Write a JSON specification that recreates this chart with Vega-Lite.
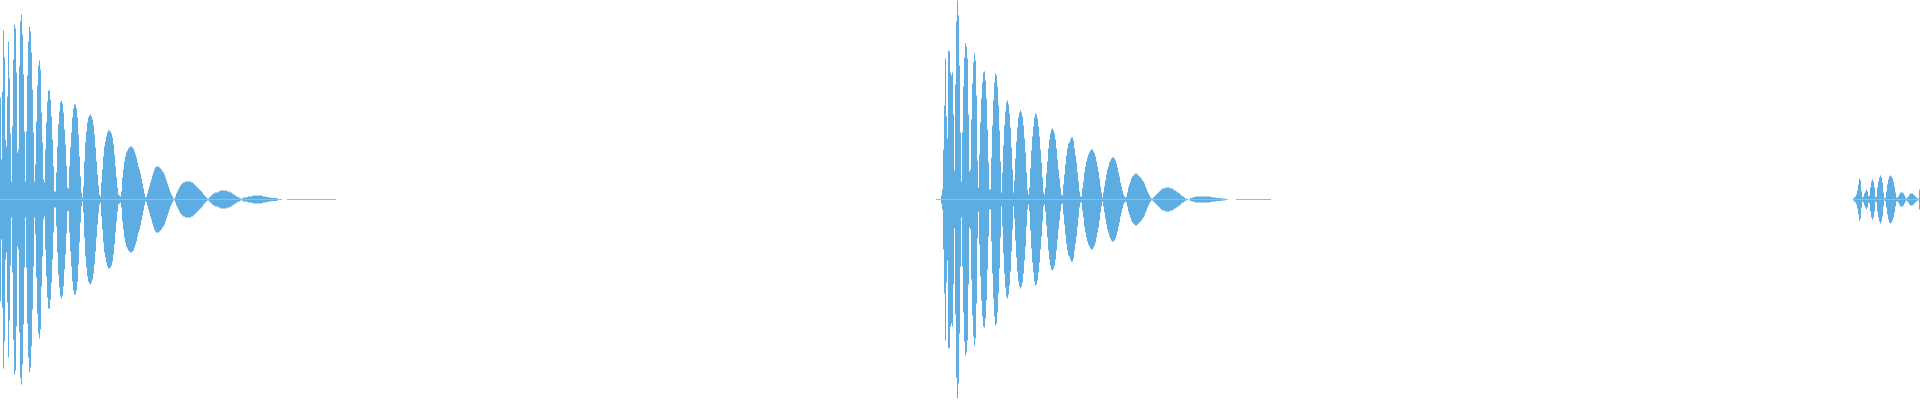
{
"$schema": "https://vega.github.io/schema/vega-lite/v6.json",
"width": 1920, "height": 400, "padding": 0,
"autosize": {"type": "fit", "contains": "padding"},
"background": "white",
"config": {"view": {"stroke": null}},
"data": {"values": [
{"x":0,"a":102},{"x":1,"a":40},{"x":2,"a":108},{"x":3,"a":169},{"x":4,"a":142},{"x":5,"a":60},{"x":6,"a":53},{"x":7,"a":103},{"x":8,"a":158},{"x":9,"a":121},
{"x":10,"a":66},{"x":11,"a":18},{"x":12,"a":73},{"x":13,"a":140},{"x":14,"a":175},{"x":15,"a":171},{"x":16,"a":127},{"x":17,"a":47},{"x":18,"a":50},{"x":19,"a":133},
{"x":20,"a":178},{"x":21,"a":185},{"x":22,"a":165},{"x":23,"a":125},{"x":24,"a":68},{"x":25,"a":18},{"x":26,"a":68},{"x":27,"a":124},{"x":28,"a":158},{"x":29,"a":173},
{"x":30,"a":168},{"x":31,"a":147},{"x":32,"a":110},{"x":33,"a":67},{"x":34,"a":18},{"x":35,"a":35},{"x":36,"a":78},{"x":37,"a":114},{"x":38,"a":134},{"x":39,"a":139},
{"x":40,"a":130},{"x":41,"a":87},{"x":42,"a":57},{"x":43,"a":20},{"x":44,"a":17},{"x":45,"a":50},{"x":46,"a":77},{"x":47,"a":98},{"x":48,"a":109},{"x":49,"a":109},
{"x":50,"a":100},{"x":51,"a":83},{"x":52,"a":60},{"x":53,"a":33},{"x":54,"a":8},{"x":55,"a":8},{"x":56,"a":27},{"x":57,"a":53},{"x":58,"a":75},{"x":59,"a":88},
{"x":60,"a":97},{"x":61,"a":99},{"x":62,"a":96},{"x":63,"a":87},{"x":64,"a":70},{"x":65,"a":55},{"x":66,"a":34},{"x":67,"a":12},{"x":68,"a":11},{"x":69,"a":33},
{"x":70,"a":52},{"x":71,"a":67},{"x":72,"a":82},{"x":73,"a":91},{"x":74,"a":95},{"x":75,"a":95},{"x":76,"a":91},{"x":77,"a":82},{"x":78,"a":65},{"x":79,"a":43},
{"x":80,"a":23},{"x":81,"a":7},{"x":82,"a":2},{"x":83,"a":13},{"x":84,"a":38},{"x":85,"a":57},{"x":86,"a":68},{"x":87,"a":77},{"x":88,"a":82},{"x":89,"a":84},
{"x":90,"a":85},{"x":91,"a":83},{"x":92,"a":80},{"x":93,"a":74},{"x":94,"a":65},{"x":95,"a":52},{"x":96,"a":38},{"x":97,"a":25},{"x":98,"a":14},{"x":99,"a":5},
{"x":100,"a":3},{"x":101,"a":17},{"x":102,"a":30},{"x":103,"a":43},{"x":104,"a":53},{"x":105,"a":58},{"x":106,"a":63},{"x":107,"a":67},{"x":108,"a":69},{"x":109,"a":69},
{"x":110,"a":68},{"x":111,"a":66},{"x":112,"a":62},{"x":113,"a":55},{"x":114,"a":45},{"x":115,"a":33},{"x":116,"a":22},{"x":117,"a":12},{"x":118,"a":5},{"x":119,"a":4},
{"x":120,"a":3},{"x":121,"a":8},{"x":122,"a":22},{"x":123,"a":30},{"x":124,"a":38},{"x":125,"a":43},{"x":126,"a":47},{"x":127,"a":49},{"x":128,"a":51},{"x":129,"a":52},
{"x":130,"a":53},{"x":131,"a":53},{"x":132,"a":52},{"x":133,"a":51},{"x":134,"a":48},{"x":135,"a":45},{"x":136,"a":42},{"x":137,"a":37},{"x":138,"a":33},{"x":139,"a":30},
{"x":140,"a":26},{"x":141,"a":21},{"x":142,"a":16},{"x":143,"a":11},{"x":144,"a":6},{"x":145,"a":2},{"x":146,"a":3},{"x":147,"a":6},{"x":148,"a":10},{"x":149,"a":13},
{"x":150,"a":17},{"x":151,"a":20},{"x":152,"a":24},{"x":153,"a":27},{"x":154,"a":30},{"x":155,"a":32},{"x":156,"a":33},{"x":157,"a":33},{"x":158,"a":33},{"x":159,"a":32},
{"x":160,"a":31},{"x":161,"a":30},{"x":162,"a":28},{"x":163,"a":27},{"x":164,"a":25},{"x":165,"a":22},{"x":166,"a":19},{"x":167,"a":16},{"x":168,"a":13},{"x":169,"a":10},
{"x":170,"a":7},{"x":171,"a":5},{"x":172,"a":3},{"x":173,"a":1},{"x":174,"a":1},{"x":175,"a":3},{"x":176,"a":6},{"x":177,"a":8},{"x":178,"a":10},{"x":179,"a":12},
{"x":180,"a":14},{"x":181,"a":15},{"x":182,"a":16},{"x":183,"a":17},{"x":184,"a":17},{"x":185,"a":18},{"x":186,"a":18},{"x":187,"a":18},{"x":188,"a":18},{"x":189,"a":18},
{"x":190,"a":18},{"x":191,"a":17},{"x":192,"a":17},{"x":193,"a":16},{"x":194,"a":15},{"x":195,"a":14},{"x":196,"a":13},{"x":197,"a":12},{"x":198,"a":11},{"x":199,"a":10},
{"x":200,"a":9},{"x":201,"a":8},{"x":202,"a":7},{"x":203,"a":5},{"x":204,"a":4},{"x":205,"a":3},{"x":206,"a":2},{"x":207,"a":1},{"x":208,"a":1},{"x":209,"a":2},
{"x":210,"a":3},{"x":211,"a":4},{"x":212,"a":5},{"x":213,"a":6},{"x":214,"a":6},{"x":215,"a":7},{"x":216,"a":7},{"x":217,"a":7},{"x":218,"a":8},{"x":219,"a":8},
{"x":220,"a":9},{"x":221,"a":9},{"x":222,"a":9},{"x":223,"a":9},{"x":224,"a":9},{"x":225,"a":9},{"x":226,"a":9},{"x":227,"a":8},{"x":228,"a":8},{"x":229,"a":8},
{"x":230,"a":7},{"x":231,"a":7},{"x":232,"a":6},{"x":233,"a":5},{"x":234,"a":5},{"x":235,"a":4},{"x":236,"a":3},{"x":237,"a":3},{"x":238,"a":2},{"x":239,"a":2},
{"x":240,"a":1},{"x":241,"a":1},{"x":242,"a":1},{"x":243,"a":2},{"x":244,"a":2},{"x":245,"a":2},{"x":246,"a":2},{"x":247,"a":2.5},{"x":248,"a":3},{"x":249,"a":3},
{"x":250,"a":3},{"x":251,"a":3},{"x":252,"a":3.5},{"x":253,"a":4},{"x":254,"a":4},{"x":255,"a":4},{"x":256,"a":4},{"x":257,"a":4},{"x":258,"a":4},{"x":259,"a":4},
{"x":260,"a":4},{"x":261,"a":4},{"x":262,"a":3.5},{"x":263,"a":3},{"x":264,"a":3},{"x":265,"a":3},{"x":266,"a":2.5},{"x":267,"a":2.5},{"x":268,"a":2},{"x":269,"a":2},
{"x":270,"a":2},{"x":271,"a":1.5},{"x":272,"a":1.5},{"x":273,"a":1.5},{"x":274,"a":1.5},{"x":275,"a":1.5},{"x":276,"a":1.5},{"x":277,"a":1},{"x":278,"a":0.5},{"x":279,"a":0.5},
{"x":280,"a":0.5},{"x":281,"a":0.5},
{"x":287,"a":0.5},{"x":288,"a":0.5},{"x":289,"a":0.5},{"x":290,"a":0.5},{"x":291,"a":0.5},{"x":292,"a":0.5},{"x":293,"a":0.5},{"x":294,"a":0.5},{"x":295,"a":0.5},{"x":296,"a":0.5},
{"x":297,"a":0.5},{"x":298,"a":0.5},{"x":299,"a":0.5},{"x":300,"a":0.5},{"x":301,"a":0.5},{"x":302,"a":0.5},{"x":303,"a":0.5},{"x":304,"a":0.5},{"x":305,"a":0.5},{"x":306,"a":0.5},
{"x":307,"a":0.5},{"x":308,"a":0.5},{"x":309,"a":0.5},{"x":310,"a":0.5},{"x":311,"a":0.5},{"x":312,"a":0.5},{"x":313,"a":0.5},{"x":314,"a":0.5},{"x":315,"a":0.5},{"x":316,"a":0.5},
{"x":317,"a":0.5},{"x":318,"a":0.5},{"x":319,"a":0.5},{"x":320,"a":0.5},{"x":321,"a":0.5},{"x":322,"a":0.5},{"x":323,"a":0.5},{"x":324,"a":0.5},{"x":325,"a":0.5},{"x":326,"a":0.5},
{"x":327,"a":0.5},{"x":328,"a":0.5},{"x":329,"a":0.5},{"x":330,"a":0.5},{"x":331,"a":0.5},{"x":332,"a":0.5},{"x":333,"a":0.5},{"x":334,"a":0.5},{"x":335,"a":0.5},
{"x":936,"a":0.5},{"x":937,"a":0.5},{"x":938,"a":0.5},{"x":939,"a":0.5},{"x":940,"a":0.5},
{"x":941,"a":4},{"x":942,"a":10},{"x":943,"a":50},{"x":944,"a":94},{"x":945,"a":141},{"x":946,"a":83},{"x":947,"a":61},{"x":948,"a":149},{"x":949,"a":148},
{"x":950,"a":127},{"x":951,"a":124},{"x":952,"a":127},{"x":953,"a":85},{"x":954,"a":29},{"x":955,"a":115},{"x":956,"a":178},{"x":957,"a":199},{"x":958,"a":184},{"x":959,"a":134},
{"x":960,"a":67},{"x":961,"a":18},{"x":962,"a":67},{"x":963,"a":113},{"x":964,"a":142},{"x":965,"a":156},{"x":966,"a":153},{"x":967,"a":141},{"x":968,"a":85},{"x":969,"a":28},
{"x":970,"a":30},{"x":971,"a":80},{"x":972,"a":116},{"x":973,"a":137},{"x":974,"a":146},{"x":975,"a":139},{"x":976,"a":104},{"x":977,"a":39},{"x":978,"a":12},{"x":979,"a":45},
{"x":980,"a":77},{"x":981,"a":101},{"x":982,"a":117},{"x":983,"a":127},{"x":984,"a":128},{"x":985,"a":119},{"x":986,"a":101},{"x":987,"a":70},{"x":988,"a":37},{"x":989,"a":10},
{"x":990,"a":10},{"x":991,"a":42},{"x":992,"a":74},{"x":993,"a":99},{"x":994,"a":117},{"x":995,"a":126},{"x":996,"a":124},{"x":997,"a":113},{"x":998,"a":94},{"x":999,"a":69},
{"x":1000,"a":38},{"x":1001,"a":7},{"x":1002,"a":27},{"x":1003,"a":54},{"x":1004,"a":74},{"x":1005,"a":88},{"x":1006,"a":97},{"x":1007,"a":99},{"x":1008,"a":95},{"x":1009,"a":86},
{"x":1010,"a":72},{"x":1011,"a":52},{"x":1012,"a":30},{"x":1013,"a":7},{"x":1014,"a":19},{"x":1015,"a":41},{"x":1016,"a":58},{"x":1017,"a":72},{"x":1018,"a":82},{"x":1019,"a":87},
{"x":1020,"a":89},{"x":1021,"a":87},{"x":1022,"a":83},{"x":1023,"a":74},{"x":1024,"a":61},{"x":1025,"a":47},{"x":1026,"a":27},{"x":1027,"a":10},{"x":1028,"a":5},{"x":1029,"a":12},
{"x":1030,"a":31},{"x":1031,"a":49},{"x":1032,"a":63},{"x":1033,"a":73},{"x":1034,"a":82},{"x":1035,"a":86},{"x":1036,"a":85},{"x":1037,"a":81},{"x":1038,"a":73},{"x":1039,"a":63},
{"x":1040,"a":50},{"x":1041,"a":37},{"x":1042,"a":22},{"x":1043,"a":7},{"x":1044,"a":5},{"x":1045,"a":12},{"x":1046,"a":26},{"x":1047,"a":38},{"x":1048,"a":51},{"x":1049,"a":60},
{"x":1050,"a":66},{"x":1051,"a":70},{"x":1052,"a":71},{"x":1053,"a":69},{"x":1054,"a":66},{"x":1055,"a":60},{"x":1056,"a":51},{"x":1057,"a":40},{"x":1058,"a":30},{"x":1059,"a":21},
{"x":1060,"a":12},{"x":1061,"a":5},{"x":1062,"a":4},{"x":1063,"a":15},{"x":1064,"a":25},{"x":1065,"a":35},{"x":1066,"a":44},{"x":1067,"a":51},{"x":1068,"a":56},{"x":1069,"a":57},
{"x":1070,"a":60},{"x":1071,"a":62},{"x":1072,"a":62},{"x":1073,"a":59},{"x":1074,"a":51},{"x":1075,"a":44},{"x":1076,"a":37},{"x":1077,"a":27},{"x":1078,"a":18},{"x":1079,"a":8},
{"x":1080,"a":3},{"x":1081,"a":3},{"x":1082,"a":11},{"x":1083,"a":18},{"x":1084,"a":27},{"x":1085,"a":33},{"x":1086,"a":38},{"x":1087,"a":42},{"x":1088,"a":45},{"x":1089,"a":47},
{"x":1090,"a":49},{"x":1091,"a":50},{"x":1092,"a":50},{"x":1093,"a":48},{"x":1094,"a":46},{"x":1095,"a":43},{"x":1096,"a":38},{"x":1097,"a":33},{"x":1098,"a":28},{"x":1099,"a":21},
{"x":1100,"a":13},{"x":1101,"a":7},{"x":1102,"a":2},{"x":1103,"a":7},{"x":1104,"a":13},{"x":1105,"a":19},{"x":1106,"a":25},{"x":1107,"a":30},{"x":1108,"a":33},{"x":1109,"a":37},
{"x":1110,"a":39},{"x":1111,"a":41},{"x":1112,"a":42},{"x":1113,"a":42},{"x":1114,"a":41},{"x":1115,"a":39},{"x":1116,"a":36},{"x":1117,"a":32},{"x":1118,"a":27},{"x":1119,"a":23},
{"x":1120,"a":17},{"x":1121,"a":13},{"x":1122,"a":9},{"x":1123,"a":5},{"x":1124,"a":3},{"x":1125,"a":2},{"x":1126,"a":3},{"x":1127,"a":7},{"x":1128,"a":12},{"x":1129,"a":15},
{"x":1130,"a":18},{"x":1131,"a":21},{"x":1132,"a":23},{"x":1133,"a":24},{"x":1134,"a":25},{"x":1135,"a":26},{"x":1136,"a":26},{"x":1137,"a":25},{"x":1138,"a":24},{"x":1139,"a":23},
{"x":1140,"a":22},{"x":1141,"a":21},{"x":1142,"a":19},{"x":1143,"a":18},{"x":1144,"a":16},{"x":1145,"a":13},{"x":1146,"a":11},{"x":1147,"a":8},{"x":1148,"a":6},{"x":1149,"a":4},
{"x":1150,"a":2},{"x":1151,"a":1},{"x":1152,"a":1},{"x":1153,"a":2},{"x":1154,"a":3},{"x":1155,"a":4},{"x":1156,"a":5},{"x":1157,"a":6},{"x":1158,"a":7},{"x":1159,"a":8},
{"x":1160,"a":9},{"x":1161,"a":10},{"x":1162,"a":11},{"x":1163,"a":11},{"x":1164,"a":11},{"x":1165,"a":12},{"x":1166,"a":12},{"x":1167,"a":12},{"x":1168,"a":12},{"x":1169,"a":12},
{"x":1170,"a":11},{"x":1171,"a":11},{"x":1172,"a":11},{"x":1173,"a":10},{"x":1174,"a":9},{"x":1175,"a":9},{"x":1176,"a":8},{"x":1177,"a":7},{"x":1178,"a":7},{"x":1179,"a":6},
{"x":1180,"a":5},{"x":1181,"a":4},{"x":1182,"a":3},{"x":1183,"a":3},{"x":1184,"a":2},{"x":1185,"a":1},{"x":1186,"a":1},{"x":1187,"a":0.5},{"x":1189,"a":0.5},
{"x":1190,"a":1.5},{"x":1191,"a":1.5},{"x":1192,"a":2},{"x":1193,"a":2},{"x":1194,"a":2.5},{"x":1195,"a":3},{"x":1196,"a":3},{"x":1197,"a":3},{"x":1198,"a":3},{"x":1199,"a":3},
{"x":1200,"a":3},{"x":1201,"a":3},{"x":1202,"a":3},{"x":1203,"a":3},{"x":1204,"a":3},{"x":1205,"a":3},{"x":1206,"a":3},{"x":1207,"a":3},{"x":1208,"a":3},{"x":1209,"a":3},
{"x":1210,"a":2.5},{"x":1211,"a":2.5},{"x":1212,"a":2},{"x":1213,"a":2},{"x":1214,"a":2},{"x":1215,"a":2},{"x":1216,"a":1.5},{"x":1217,"a":1.5},{"x":1218,"a":1.5},{"x":1219,"a":1.5},
{"x":1220,"a":1.5},{"x":1221,"a":1},{"x":1222,"a":1},{"x":1223,"a":1},{"x":1224,"a":1},{"x":1225,"a":0.5},{"x":1226,"a":0.5},{"x":1227,"a":0.5},
{"x":1236,"a":0.5},{"x":1237,"a":0.5},{"x":1238,"a":0.5},{"x":1239,"a":0.5},{"x":1240,"a":0.5},{"x":1241,"a":0.5},{"x":1242,"a":0.5},{"x":1243,"a":0.5},{"x":1244,"a":0.5},{"x":1245,"a":0.5},
{"x":1246,"a":0.5},{"x":1247,"a":0.5},{"x":1248,"a":0.5},{"x":1249,"a":0.5},{"x":1250,"a":0.5},{"x":1251,"a":0.5},{"x":1252,"a":0.5},{"x":1253,"a":0.5},{"x":1254,"a":0.5},{"x":1255,"a":0.5},
{"x":1256,"a":0.5},{"x":1257,"a":0.5},{"x":1258,"a":0.5},{"x":1259,"a":0.5},{"x":1260,"a":0.5},{"x":1261,"a":0.5},{"x":1262,"a":0.5},{"x":1263,"a":0.5},{"x":1264,"a":0.5},{"x":1265,"a":0.5},
{"x":1266,"a":0.5},{"x":1267,"a":0.5},{"x":1268,"a":0.5},{"x":1269,"a":0.5},{"x":1270,"a":0.5},
{"x":1853,"a":1},{"x":1854,"a":2},{"x":1855,"a":3},{"x":1856,"a":5},{"x":1857,"a":9},{"x":1858,"a":15},{"x":1859,"a":21},
{"x":1860,"a":19},{"x":1861,"a":8},{"x":1862,"a":2},{"x":1863,"a":3},{"x":1864,"a":6},{"x":1865,"a":8},{"x":1866,"a":10},{"x":1867,"a":8},{"x":1868,"a":3},{"x":1869,"a":4},
{"x":1870,"a":12},{"x":1871,"a":18},{"x":1872,"a":20},{"x":1873,"a":18},{"x":1874,"a":12},{"x":1875,"a":2},{"x":1876,"a":3},{"x":1877,"a":12},{"x":1878,"a":18},{"x":1879,"a":22},
{"x":1880,"a":24},{"x":1881,"a":22},{"x":1882,"a":17},{"x":1883,"a":7},{"x":1884,"a":1},{"x":1885,"a":2},{"x":1886,"a":8},{"x":1887,"a":15},{"x":1888,"a":20},{"x":1889,"a":23},
{"x":1890,"a":24},{"x":1891,"a":23},{"x":1892,"a":21},{"x":1893,"a":18},{"x":1894,"a":13},{"x":1895,"a":7},{"x":1896,"a":2},{"x":1897,"a":2},{"x":1898,"a":3},{"x":1899,"a":5},
{"x":1900,"a":7},{"x":1901,"a":7},{"x":1902,"a":7},{"x":1903,"a":6},{"x":1904,"a":4},{"x":1905,"a":2},{"x":1906,"a":1},{"x":1907,"a":2},{"x":1908,"a":3},{"x":1909,"a":5},
{"x":1910,"a":6},{"x":1911,"a":6},{"x":1912,"a":6},{"x":1913,"a":5},{"x":1914,"a":4},{"x":1915,"a":3},{"x":1916,"a":2},{"x":1917,"a":1},{"x":1918,"a":1},{"x":1919,"a":10}
]},
"encoding": {
  "x": {"field": "x", "type": "quantitative", "scale": {"domain": [-0.5, 1919.5], "nice": false, "zero": false, "padding": 0}, "axis": null}
},
"layer": [
  {"mark": {"type": "bar", "width": 1, "color": "#5dade2", "orient": "vertical"},
   "encoding": {"y": {"field": "a", "type": "quantitative", "stack": null, "scale": {"domain": [-200.5, 199.5], "nice": false, "padding": 0}, "axis": null}}},
  {"mark": {"type": "bar", "width": 1, "color": "#5dade2", "orient": "vertical"},
   "encoding": {"y": {"field": "a", "type": "quantitative", "stack": null, "scale": {"domain": [-199.5, 200.5], "nice": false, "padding": 0, "reverse": true}, "axis": null}}}
],
"resolve": {"scale": {"y": "independent"}}
}
